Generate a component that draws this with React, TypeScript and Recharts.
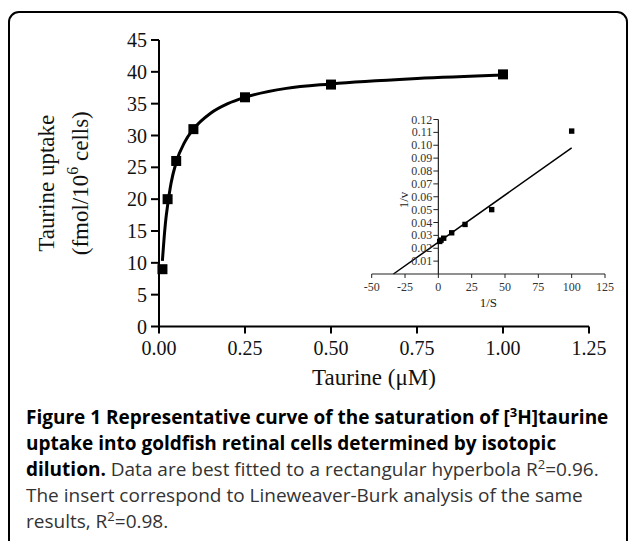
import React from 'react';
import {
  ComposedChart, Line, Scatter, XAxis, YAxis, ReferenceLine, ReferenceDot,
} from 'recharts';

// ---- Main saturation curve data ----
const mainX = [0.01, 0.025, 0.05, 0.1, 0.25, 0.5, 1.0];
const mainY = [9, 20, 26, 31, 36, 38, 39.6];
// fitted rectangular hyperbola
const fitX = [0.0098, 0.015, 0.02, 0.025, 0.035, 0.05, 0.075, 0.1, 0.15, 0.2, 0.25, 0.37, 0.5, 0.75, 1.0];
const fitY = [10.3, 14.0, 16.9, 19.0, 22.5, 25.8, 29.0, 31.0, 33.5, 35.0, 36.0, 37.4, 38.1, 38.95, 39.5];
const mainXTicks = [0, 0.25, 0.5, 0.75, 1.0, 1.25];
const mainYTicks = [0, 5, 10, 15, 20, 25, 30, 35, 40, 45];

// ---- Inset Lineweaver-Burk data ----
const insetX = [1, 2, 4, 10, 20, 40, 100];
const insetY = [0.0253, 0.0263, 0.0278, 0.032, 0.0385, 0.05, 0.111];
const lbLineX = [-33.7, 100];
const lbLineY = [0, 0.098];
const insetXTicks = [-50, -25, 0, 25, 50, 75, 100, 125];
const insetYTicks = [0.01, 0.02, 0.03, 0.04, 0.05, 0.06, 0.07, 0.08, 0.09, 0.1, 0.11, 0.12];

const mainPoints = mainX.map((x, i) => ({ x, y: mainY[i] }));
const fitPoints = fitX.map((x, i) => ({ x, y: fitY[i] }));
const insetPoints = insetX.map((x, i) => ({ x, y: insetY[i] }));
const lbLine = lbLineX.map((x, i) => ({ x, y: lbLineY[i] }));
const insetYTickPoints = insetYTicks.map((y) => ({ x: 0, y }));

const SERIF = '"Liberation Serif", "Times New Roman", serif';
const SANS = '"Open Sans", "Noto Sans", sans-serif';

const BigSquare = (p: any) => (
  <rect x={p.cx - 5} y={p.cy - 5} width={10} height={10} fill="#000" />
);
const SmallSquare = (p: any) => (
  <rect x={p.cx - 2.7} y={p.cy - 2.7} width={5.4} height={5.4} fill="#000" />
);
const InsetYTick = (p: any) => (
  <g>
    <line x1={p.cx - 5} y1={p.cy} x2={p.cx} y2={p.cy} stroke="#222" strokeWidth={1} />
    <text x={p.cx - 6} y={p.cy} textAnchor="end" dominantBaseline="central"
      fontFamily={SERIF} fontSize={12} fill="#333">
      {p.payload.y.toFixed(2)}
    </text>
  </g>
);

const YTitle = (props: any) => {
  const vb = props.viewBox || { y: 40, height: 286.5 };
  const cy = vb.y + vb.height / 2;
  return (
    <g fontFamily={SERIF} fontSize={23} fill="#111">
      <text transform={`translate(46,${cy}) rotate(-90)`} textAnchor="middle" dominantBaseline="central">
        Taurine uptake
      </text>
      <text transform={`translate(80,${cy}) rotate(-90)`} textAnchor="middle" dominantBaseline="central">
        (fmol/10<tspan dy={-8} fontSize={16}>6</tspan><tspan dy={8}> cells)</tspan>
      </text>
    </g>
  );
};

const captionLine: React.CSSProperties = {
  position: 'absolute', left: 26, whiteSpace: 'nowrap', fontFamily: SANS,
  fontSize: 19, lineHeight: '26px', color: '#333',
};
const sup: React.CSSProperties = { fontSize: 13, lineHeight: 0 };

export default function App() {
  return (
    <div style={{ position: 'absolute', left: 0, top: 0, width: 629, height: 541, overflow: 'hidden', background: '#fff' }}>
      <div style={{ position: 'absolute', left: 8, top: 11, width: 616, height: 600, border: '2px solid #000', borderRadius: 11 }} />

      <div style={{ position: 'absolute', left: 0, top: 0 }}>
        <ComposedChart width={629} height={541} margin={{ top: 40, right: 40, bottom: 154.5, left: 0 }}>
          <XAxis type="number" dataKey="x" domain={[0, 1.25]} ticks={mainXTicks}
            tickFormatter={(v: number) => v.toFixed(2)} height={60}
            axisLine={{ stroke: '#000', strokeWidth: 2 }} tickLine={{ stroke: '#000', strokeWidth: 2 }}
            tickSize={7} tickMargin={7}
            tick={{ fontFamily: SERIF, fontSize: 20, fill: '#111' }}
            label={{ value: 'Taurine (μM)', position: 'insideBottom', offset: 2, fontFamily: SERIF, fontSize: 23, fill: '#111' }} />
          <YAxis type="number" dataKey="y" domain={[0, 45]} ticks={mainYTicks} width={159}
            axisLine={{ stroke: '#000', strokeWidth: 2 }} tickLine={{ stroke: '#000', strokeWidth: 2 }}
            tickSize={8} tickMargin={4}
            tick={{ fontFamily: SERIF, fontSize: 20, fill: '#111' }}
            label={YTitle} />
          <Line data={fitPoints} dataKey="y" type="monotone" stroke="#000" strokeWidth={3}
            dot={false} activeDot={false} isAnimationActive={false} />
          <Scatter data={mainPoints} dataKey="y" shape={BigSquare} isAnimationActive={false} />
        </ComposedChart>
      </div>

      <div style={{ position: 'absolute', left: 0, top: 0 }}>
        <ComposedChart width={629} height={541} margin={{ top: 119.5, right: 24, bottom: 232, left: 371.7 }}>
          <XAxis type="number" dataKey="x" domain={[-50, 125]} ticks={insetXTicks} height={35}
            axisLine={{ stroke: '#222', strokeWidth: 1.2 }} tickLine={{ stroke: '#222', strokeWidth: 1 }}
            tickSize={4} tickMargin={4}
            tick={{ fontFamily: SERIF, fontSize: 12, fill: '#333' }}
            label={{ value: '1/S', position: 'insideBottom', offset: 2, fontFamily: SERIF, fontSize: 13, fill: '#222' }} />
          <YAxis type="number" dataKey="y" domain={[0, 0.12]} hide />
          <ReferenceLine x={0} stroke="#222" strokeWidth={1.2} />
          <ReferenceDot x={-26.3} y={0.0575} r={0} fill="none" stroke="none"
            label={{ value: '1/v', angle: -90, position: 'center', fontFamily: SERIF, fontSize: 13, fill: '#222' }} />
          <Line data={lbLine} dataKey="y" type="linear" stroke="#000" strokeWidth={1.5}
            dot={false} activeDot={false} isAnimationActive={false} />
          <Scatter data={insetPoints} dataKey="y" shape={SmallSquare} isAnimationActive={false} />
          <Scatter data={insetYTickPoints} dataKey="y" shape={InsetYTick} isAnimationActive={false} />
        </ComposedChart>
      </div>

      <div style={{ ...captionLine, top: 404, fontWeight: 700, color: '#000' }}>
        Figure 1 Representative curve of the saturation of [<sup style={sup}>3</sup>H]taurine
      </div>
      <div style={{ ...captionLine, top: 430, fontWeight: 700, color: '#000' }}>
        uptake into goldfish retinal cells determined by isotopic
      </div>
      <div style={{ ...captionLine, top: 456 }}>
        <b style={{ color: '#000' }}>dilution.</b> Data are best fitted to a rectangular hyperbola R<sup style={sup}>2</sup>=0.96.
      </div>
      <div style={{ ...captionLine, top: 482 }}>
        The insert correspond to Lineweaver-Burk analysis of the same
      </div>
      <div style={{ ...captionLine, top: 508 }}>
        results, R<sup style={sup}>2</sup>=0.98.
      </div>
    </div>
  );
}
